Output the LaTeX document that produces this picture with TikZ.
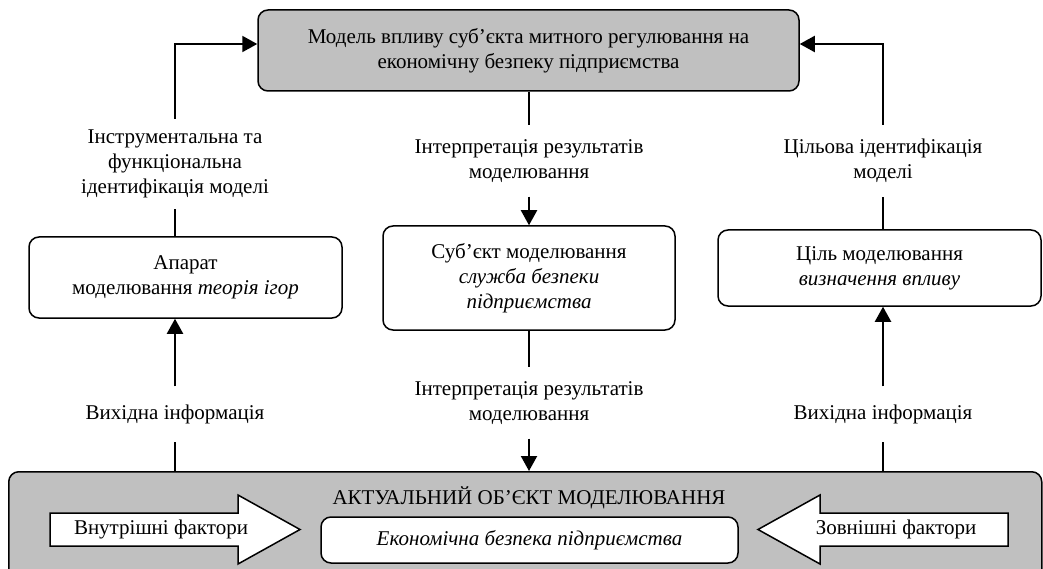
\documentclass[tikz,border=0pt]{standalone}
\usepackage{fontspec}
\setmainfont{Liberation Serif}
\newfontfamily\tnr{Liberation Serif}
\usetikzlibrary{arrows.meta,calc}
\definecolor{boxgray}{RGB}{192,192,192}
\begin{document}
\begin{tikzpicture}[x=1pt,y=-1pt,
  every node/.style={font=\tnr\fontsize{21}{25}\selectfont},
  box/.style={draw, line width=1.5pt, rounded corners=10pt, align=center, inner sep=0pt},
  lbl/.style={align=center, inner xsep=2pt, inner ysep=14pt},
  conn/.style={line width=2pt},
  thinconn/.style={line width=1.3pt},
  arr/.style={conn, -{Triangle[length=15pt,width=16pt]}},
  fat/.style={draw, line width=1.5pt, fill=white, line join=miter}
]
\clip (0,0) rectangle (1043,569);
\node[box, fill=boxgray, minimum width=541pt, minimum height=81pt] (top) at (528.5,50.5) {Модель впливу суб’єкта митного регулювання на\\економічну безпеку підприємства};
\node[box, minimum width=313pt, minimum height=81pt] (app) at (185.5,277.5) {Апарат\\моделювання \textit{теорія ігор}};
\node[box, minimum width=292pt, minimum height=104pt] (subj) at (529,278) {Суб’єкт моделювання\\\textit{служба безпеки}\\\textit{підприємства}};
\node[box, minimum width=323pt, minimum height=76pt] (goal) at (879.5,268) {Ціль моделювання\\\textit{визначення впливу}};
\node[box, fill=boxgray, minimum width=1033pt, minimum height=140pt, anchor=north west] (obj) at (8,471) {};
\node (objtitle) at (529,498) {АКТУАЛЬНИЙ ОБ’ЄКТ МОДЕЛЮВАННЯ};
\node[box, fill=white, minimum width=417pt, minimum height=46pt] (econ) at (529.5,540) {\textit{Економічна безпека підприємства}};

\draw[fat] (50,513) -- (238,513) -- (238,495) -- (300,529.5) -- (238,564) -- (238,546) -- (50,546) -- cycle;
\node (inner) at (161,529.5) {Внутрішні фактори};
\draw[fat] (1008,513) -- (820,513) -- (820,495) -- (758,529.5) -- (820,564) -- (820,546) -- (1008,546) -- cycle;
\node (outer) at (896,529.5) {Зовнішні фактори};

\node[lbl, inner ysep=11pt] (lblL) at (175,164) {Інструментальна та\\функціональна\\ідентифікація моделі};
\node[lbl] (lblM1) at (529,161) {Інтерпретація результатів\\моделювання};
\node[lbl] (lblR1) at (883,161) {Цільова ідентифікація\\моделі};
\node[lbl] (lblM2) at (529,403) {Інтерпретація результатів\\моделювання};
\node[lbl, inner ysep=18pt] (lblL2) at (175,414) {Вихідна інформація};
\node[lbl, inner ysep=18pt] (lblR2) at (883,414) {Вихідна інформація};

\draw[arr] (lblL.north) |- ([yshift=6.5pt]top.west);
\draw[thinconn] (lblL.south) -- (lblL.south |- app.north);
\draw[conn] (lblM1.north |- top.south) -- (lblM1.north);
\draw[arr] (lblM1.south) -- (lblM1.south |- subj.north);
\draw[arr] (lblR1.north) |- ([yshift=6.5pt]top.east);
\draw[thinconn] (lblR1.south) -- (lblR1.south |- goal.north);
\draw[conn] (subj.south) -- (lblM2.north);
\draw[arr] (lblM2.south) -- (lblM2.south |- obj.north);
\draw[conn] (lblL2.south |- obj.north) -- (lblL2.south);
\draw[arr] (lblL2.north) -- (lblL2.north |- app.south);
\draw[conn] (lblR2.south |- obj.north) -- (lblR2.south);
\draw[arr] (lblR2.north) -- (lblR2.north |- goal.south);
\end{tikzpicture}
\end{document}
